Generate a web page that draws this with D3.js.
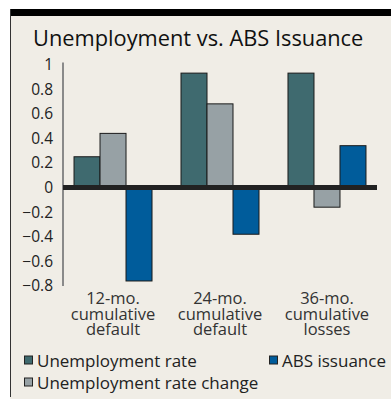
<!DOCTYPE html>
<html><head><meta charset="utf-8">
<script src="https://cdn.jsdelivr.net/npm/d3@7"></script>
<style>
html,body{margin:0;padding:0;background:#fff;}
svg{display:block;font-family:"Open Sans",sans-serif;}
</style></head>
<body>
<svg id="chart" width="391" height="399"></svg>
<script>
const categories = [["12-mo.","cumulative","default"],["24-mo.","cumulative","default"],["36-mo.","cumulative","losses"]];
const seriesNames = ["Unemployment rate","Unemployment rate change","ABS issuance"];
const unemploymentRate = [0.25, 0.93, 0.93];
const unemploymentRateChange = [0.44, 0.68, -0.16];
const absIssuance = [-0.76, -0.38, 0.34];
const yTicks = [1, 0.8, 0.6, 0.4, 0.2, 0, -0.2, -0.4, -0.6, -0.8];
const colors = ["#3f6a6f", "#97a1a5", "#005c9b"];

const svg = d3.select("#chart");
// panel
svg.append("rect").attr("x",10).attr("y",9).attr("width",381).attr("height",390).attr("fill","#f0ede6");
svg.append("rect").attr("x",10).attr("y",9).attr("width",381).attr("height",7).attr("fill","#000");
svg.append("line").attr("x1",10.5).attr("x2",10.5).attr("y1",9).attr("y2",397).attr("stroke","#333").attr("stroke-width",1);

svg.append("text").attr("x",33).attr("y",46).attr("font-size",21.8).attr("fill","#111").text("Unemployment vs. ABS Issuance");

const y = d3.scaleLinear().domain([-0.8, 1]).range([187.5 + 0.8*123, 187.5 - 123]);
const x0 = d3.scaleBand().domain(d3.range(categories.length)).range([63, 377]).paddingInner(0.271).paddingOuter(0.103);
const x1 = d3.scaleBand().domain(d3.range(3)).range([0, x0.bandwidth()]);

// y axis
const yAxis = d3.axisLeft(y).tickValues(yTicks).tickSize(0).tickPadding(10).tickFormat(d => d3.format("")(Math.round(d*10)/10));
const gy = svg.append("g").attr("transform","translate(63,0)").call(yAxis);
gy.select(".domain").attr("stroke","#8a8a8a").attr("stroke-width",2).attr("d", `M0,${y(1)-2}V${y(-0.8)}`);
gy.selectAll("text").attr("font-size",15.5).attr("fill","#222").attr("font-family","Open Sans");

const series = [unemploymentRate, unemploymentRateChange, absIssuance];
const groups = svg.append("g");
categories.forEach((c, i) => {
  series.forEach((s, j) => {
    const v = s[i];
    groups.append("rect")
      .attr("x", x0(i) + x1(j))
      .attr("width", x1.bandwidth())
      .attr("y", y(Math.max(0, v)))
      .attr("height", Math.abs(y(v) - y(0)))
      .attr("fill", colors[j]).attr("stroke","#1a1a1a").attr("stroke-width",1);
  });
});
// zero line
svg.append("line").attr("x1",63).attr("x2",377).attr("y1",y(0)).attr("y2",y(0)).attr("stroke","#222").attr("stroke-width",5);

// x labels
categories.forEach((c, i) => {
  const t = svg.append("text").attr("text-anchor","middle").attr("font-size",16.5).attr("fill","#333");
  c.forEach((line, k) => {
    t.append("tspan").attr("x", x0(i) + x0.bandwidth()/2).attr("y", 304 + k*15.5).text(line);
  });
});

// legend
const legendItems = [
  {name: seriesNames[0], c: colors[0], x: 24, y: 360.5},
  {name: seriesNames[2], c: colors[2], x: 269, y: 360.5},
  {name: seriesNames[1], c: colors[1], x: 24, y: 382.5}
];
legendItems.forEach(d => {
  svg.append("rect").attr("x", d.x+0.5).attr("y", d.y-4.5).attr("width", 8).attr("height", 8).attr("fill", d.c).attr("stroke","#222").attr("stroke-width",1);
  svg.append("text").attr("x", d.x+13).attr("y", d.y+6).attr("font-size",17).attr("fill","#222").text(d.name);
});
</script>
</body></html>
